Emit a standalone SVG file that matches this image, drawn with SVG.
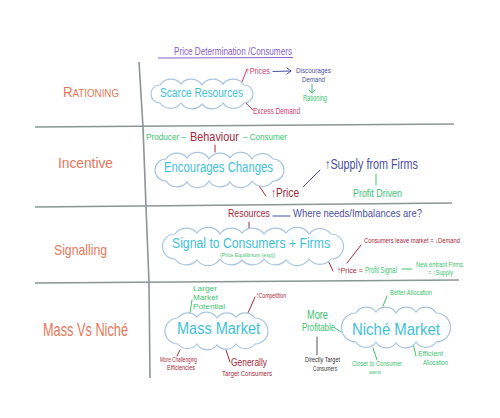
<svg xmlns="http://www.w3.org/2000/svg" width="500" height="418" viewBox="0 0 500 418">
<style>
text{font-family:"Liberation Sans","DejaVu Sans",sans-serif;}
.lbl{fill:#e5775a;}
.cyan{fill:#3fc1d6;}
.pink{fill:#cf3b6b;}
.red{fill:#a3283a;}
.blue{fill:#4b4f9e;}
.green{fill:#3ec270;}
.blk{fill:#333;}
.cloud{fill:#fff;stroke:#aac4de;stroke-width:1.2;}
.grid{fill:none;stroke:#8d9494;stroke-width:1.6;}
.c{fill:none;stroke-width:1;stroke-linecap:round;stroke-linejoin:round;}
.sp{stroke:#cf3b6b;}
.sr{stroke:#a3283a;}
.sb{stroke:#4b4f9e;}
.sg{stroke:#3ec270;}
.sk{stroke:#555;}
</style>
<rect width="500" height="418" fill="#fff"/>

<g id="grid">
<path class="grid" d="M139,62 L143,127 L146,207 L149,283 L150,378"/>
<path class="grid" d="M35,127 L454,124"/>
<path class="grid" d="M35,207 L452,203"/>
<path class="grid" d="M35,283 L459,280"/>
</g>

<g id="title">
<text x="174" y="55" font-size="10.5" fill="#8a5ec8" textLength="118" lengthAdjust="spacingAndGlyphs">Price Determination /Consumers</text>
<path d="M158,58 L293,57.5" stroke="#8a5ec8" stroke-width="1" fill="none"/>
</g>

<g id="row-labels">
<text id="rationing" class="lbl" x="63" y="97" font-size="11" textLength="56" lengthAdjust="spacingAndGlyphs"><tspan font-size="15">R</tspan>ATIONING</text>
<text id="incentive" class="lbl" x="58" y="168" font-size="15" textLength="55" lengthAdjust="spacingAndGlyphs">Incentive</text>
<text id="signalling" class="lbl" x="54" y="255" font-size="15" textLength="53" lengthAdjust="spacingAndGlyphs">Signalling</text>
<text id="massvsniche" class="lbl" x="43" y="336" font-size="18" textLength="85" lengthAdjust="spacingAndGlyphs">Mass Vs Niché</text>
</g>

<g id="connectors">
<path class="c sp" d="M242,82 L247,69"/>
<path class="c sp" d="M245,102 L253,110"/>
<path class="c sb" d="M273,71.5 L291,71 M287,68 L291,71 L287,74"/>
<path class="c sg" d="M312,84 L312,93 M309,90 L312,93 L315,90"/>
<path class="c sr" d="M215,145 L215,152"/>
<path class="c sr" d="M255,180 L266,196"/>
<path class="c sb" d="M303,187 L320,170"/>
<path class="c sg" d="M376,174 L376,185"/>
<path class="c sb" d="M273,216 L290,216"/>
<path class="c sr" d="M249,222 L249,228"/>
<path class="c sr" d="M326,256 L333,271"/>
<path class="c sr" d="M347,263 L361,245"/>
<path class="c sg" d="M402,269 L412,269"/>
<path class="c sg" d="M190,313 L192,300"/>
<path class="c sr" d="M248,313 L255,297"/>
<path class="c sr" d="M180,350 L177,356"/>
<path class="c sr" d="M226,350 L230,362"/>
<path class="c sg" d="M335,328 L341,332"/>
<path class="c sk" d="M317,337 L317,355"/>
<path class="c sg" d="M383,306 L387,296"/>
<path class="c sg" d="M373,348 L377,360"/>
<path class="c sg" d="M413,343 L416,356"/>
</g>

<g id="scarce-resources">
<path class="cloud" d="M160,103 A9,9 0 0 1 160,85 A13,13 0 0 1 181,84 A13,13 0 0 1 202,85 A13,13 0 0 1 223,84 A13,13 0 0 1 244,85 A9,9 0 0 1 244,103 A13,13 0 0 1 223,103 A13,13 0 0 1 202,104 A13,13 0 0 1 181,103 A13,13 0 0 1 160,103 Z"/>
<text class="cyan" x="160" y="97" font-size="12.5" textLength="83" lengthAdjust="spacingAndGlyphs">Scarce Resources</text>
</g>
<g id="prices">
<text class="pink" x="246" y="74" font-size="9" textLength="24" lengthAdjust="spacingAndGlyphs">↑Prices</text>
</g>
<g id="excess-demand">
<text class="pink" x="253" y="114" font-size="9" textLength="47" lengthAdjust="spacingAndGlyphs">Excess Demand</text>
</g>
<g id="discourages-demand">
<text class="blue" x="296" y="73" font-size="8" textLength="35" lengthAdjust="spacingAndGlyphs">Discourages</text>
<text class="blue" x="302" y="81.5" font-size="7.5" textLength="23" lengthAdjust="spacingAndGlyphs">Demand</text>
</g>
<g id="rationing-result">
<text class="green" x="303" y="101" font-size="9.5" textLength="24" lengthAdjust="spacingAndGlyphs">Rationing</text>
</g>

<g id="producer-behaviour-consumer">
<text class="green" x="146" y="140" font-size="9" textLength="40" lengthAdjust="spacingAndGlyphs">Producer –</text>
<text class="red" x="190" y="141" font-size="12" textLength="49" lengthAdjust="spacingAndGlyphs">Behaviour</text>
<text class="green" x="243" y="140" font-size="9" textLength="44" lengthAdjust="spacingAndGlyphs">– Consumer</text>
</g>
<g id="encourages-changes">
<path class="cloud" d="M166,181 A11,11 0 0 1 166,159 A13,13 0 0 1 187,158 A13,13 0 0 1 209,159 A13,13 0 0 1 230,158 A13,13 0 0 1 252,159 A13,13 0 0 1 273,159 A11,11 0 0 1 273,181 A13,13 0 0 1 252,181 A13,13 0 0 1 230,182 A13,13 0 0 1 209,181 A13,13 0 0 1 187,182 A13,13 0 0 1 166,181 Z"/>
<text class="cyan" x="164" y="172" font-size="14" textLength="109" lengthAdjust="spacingAndGlyphs">Encourages Changes</text>
</g>
<g id="price-up">
<text class="red" x="271" y="197" font-size="13" textLength="28" lengthAdjust="spacingAndGlyphs">↑Price</text>
</g>
<g id="supply-from-firms">
<text class="blue" x="325" y="169" font-size="14" textLength="93" lengthAdjust="spacingAndGlyphs">↑Supply from Firms</text>
</g>
<g id="profit-driven">
<text class="green" x="353" y="197" font-size="11" textLength="49" lengthAdjust="spacingAndGlyphs">Profit Driven</text>
</g>

<g id="resources">
<text class="red" x="228" y="217" font-size="11" textLength="42" lengthAdjust="spacingAndGlyphs">Resources</text>
</g>
<g id="where-needs">
<text class="blue" x="293" y="217" font-size="11" textLength="129" lengthAdjust="spacingAndGlyphs">Where needs/Imbalances are?</text>
</g>
<g id="signal">
<path class="cloud" d="M175,259 A12.5,12.5 0 0 1 175,234 A14,14 0 0 1 197,233 A14,14 0 0 1 220,234 A14,14 0 0 1 242,233 A14,14 0 0 1 264,234 A14,14 0 0 1 286,233 A14,14 0 0 1 309,234 A14,14 0 0 1 331,234 A12.5,12.5 0 0 1 331,259 A14,14 0 0 1 309,259 A14,14 0 0 1 286,260 A14,14 0 0 1 264,259 A14,14 0 0 1 242,260 A14,14 0 0 1 220,259 A14,14 0 0 1 197,260 A14,14 0 0 1 175,259 Z"/>
<text class="cyan" x="172" y="248" font-size="15.5" textLength="158" lengthAdjust="spacingAndGlyphs">Signal to Consumers + Firms</text>
<text class="green" x="220" y="256.5" font-size="5.5" textLength="55" lengthAdjust="spacingAndGlyphs">(Price Equilibrium (exp))</text>
</g>
<g id="consumers-leave">
<text class="red" x="364" y="243" font-size="7.5" textLength="96" lengthAdjust="spacingAndGlyphs">Consumers leave market = ↓Demand</text>
</g>
<g id="price-profit-signal">
<text class="red" x="337" y="273" font-size="8" textLength="26" lengthAdjust="spacingAndGlyphs">↑Price =</text>
<text class="green" x="365" y="273" font-size="8.5" textLength="32" lengthAdjust="spacingAndGlyphs">Profit Signal</text>
</g>
<g id="new-entrant">
<text class="green" x="416" y="267" font-size="7" textLength="47" lengthAdjust="spacingAndGlyphs">New entrant Firms</text>
<text class="green" x="428" y="275" font-size="7" textLength="25" lengthAdjust="spacingAndGlyphs">= ↑Supply</text>
</g>

<g id="mass-market">
<path class="cloud" d="M178,344 A13,13 0 0 1 178,318 A12,12 0 0 1 197,317 A12,12 0 0 1 217,318 A12,12 0 0 1 236,317 A12,12 0 0 1 255,318 A13,13 0 0 1 255,344 A12,12 0 0 1 236,344 A12,12 0 0 1 217,345 A12,12 0 0 1 197,344 A12,12 0 0 1 178,344 Z"/>
<text class="cyan" x="177" y="334" font-size="16" textLength="83" lengthAdjust="spacingAndGlyphs">Mass Market</text>
</g>
<g id="larger-market">
<text class="green" x="193" y="291" font-size="8" textLength="24" lengthAdjust="spacingAndGlyphs">Larger</text>
<text class="green" x="193" y="300" font-size="8" textLength="25" lengthAdjust="spacingAndGlyphs">Market</text>
<text class="green" x="193" y="309" font-size="8" textLength="32" lengthAdjust="spacingAndGlyphs">Potential</text>
</g>
<g id="competition">
<text class="red" x="256" y="298" font-size="8" textLength="30" lengthAdjust="spacingAndGlyphs">↑Competition</text>
</g>
<g id="more-challenging">
<text class="red" x="160" y="362" font-size="6.5" textLength="37" lengthAdjust="spacingAndGlyphs">More Challenging</text>
<text class="red" x="167" y="370" font-size="6.5" textLength="28" lengthAdjust="spacingAndGlyphs">Efficiencies</text>
</g>
<g id="generally-target">
<text class="red" x="231" y="366" font-size="11.5" textLength="36" lengthAdjust="spacingAndGlyphs">Generally</text>
<text class="red" x="222" y="376" font-size="7" textLength="50" lengthAdjust="spacingAndGlyphs">Target Consumers</text>
</g>
<g id="more-profitable">
<text class="green" x="307" y="319" font-size="12" textLength="21" lengthAdjust="spacingAndGlyphs">More</text>
<text class="green" x="302" y="331" font-size="11" textLength="33" lengthAdjust="spacingAndGlyphs">Profitable</text>
</g>
<g id="directly-target">
<text class="blk" x="305" y="362" font-size="7" textLength="35" lengthAdjust="spacingAndGlyphs">Directly Target</text>
<text class="blk" x="313" y="371" font-size="7" textLength="24" lengthAdjust="spacingAndGlyphs">Consumers</text>
</g>
<g id="niche-market">
<path class="cloud" d="M356,342 A14.5,14.5 0 0 1 356,313 A12,12 0 0 1 376,312 A12,12 0 0 1 396,313 A12,12 0 0 1 416,312 A12,12 0 0 1 436,313 A14.5,14.5 0 0 1 436,342 A12,12 0 0 1 416,342 A12,12 0 0 1 396,343 A12,12 0 0 1 376,342 A12,12 0 0 1 356,342 Z"/>
<text class="cyan" x="352" y="335" font-size="17" textLength="88" lengthAdjust="spacingAndGlyphs">Niché Market</text>
</g>
<g id="better-allocation">
<text class="green" x="390" y="295" font-size="7.5" textLength="42" lengthAdjust="spacingAndGlyphs">Better Allocation</text>
</g>
<g id="closer-to-consumer">
<text class="green" x="352" y="366" font-size="7" textLength="50" lengthAdjust="spacingAndGlyphs">Closer to Consumer</text>
<text class="green" x="369" y="373.5" font-size="6" textLength="12" lengthAdjust="spacingAndGlyphs">wants</text>
</g>
<g id="efficient-allocation">
<text class="green" x="418" y="356" font-size="8" textLength="25" lengthAdjust="spacingAndGlyphs">Efficient</text>
<text class="green" x="423" y="365" font-size="7.5" textLength="25" lengthAdjust="spacingAndGlyphs">Allocation</text>
</g>
</svg>
